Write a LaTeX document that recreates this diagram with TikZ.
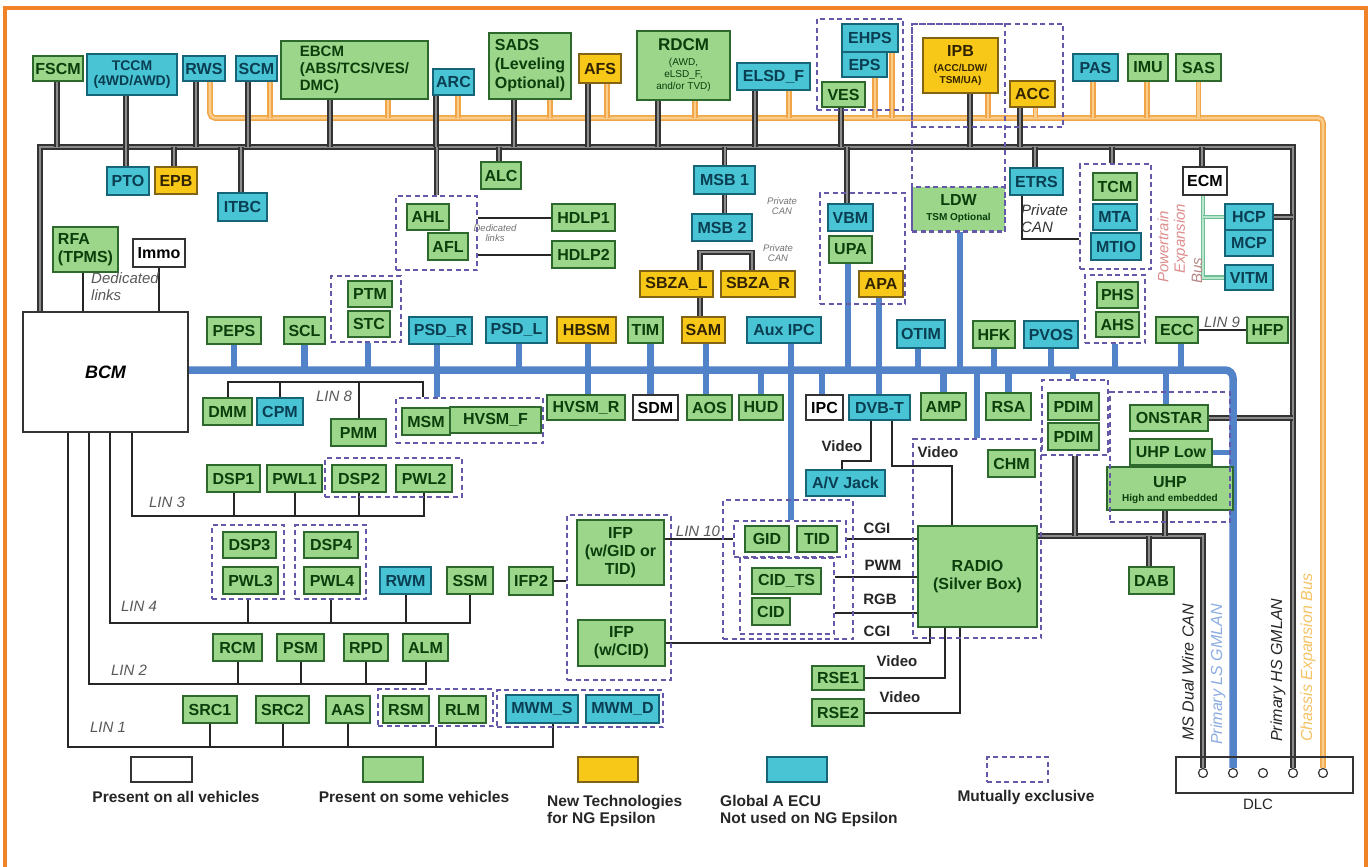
\documentclass[tikz,border=0pt]{standalone}
\usepackage{fontspec}
\setmainfont{Liberation Sans}
\usetikzlibrary{calc}
\definecolor{gF}{RGB}{155,214,138}
\definecolor{gD}{RGB}{45,105,45}
\definecolor{gT}{RGB}{12,62,12}
\definecolor{cF}{RGB}{72,196,212}
\definecolor{cD}{RGB}{22,100,120}
\definecolor{cT}{RGB}{10,62,82}
\definecolor{yF}{RGB}{247,200,24}
\definecolor{yD}{RGB}{130,100,20}
\definecolor{yT}{RGB}{50,35,0}
\definecolor{dashC}{RGB}{100,88,168}
\definecolor{frameC}{RGB}{240,130,40}
\definecolor{oD}{RGB}{240,165,70}
\definecolor{oL}{RGB}{250,205,140}
\definecolor{lsB}{RGB}{82,130,200}
\definecolor{gnD}{RGB}{110,190,150}
\definecolor{gnL}{RGB}{185,230,205}
\definecolor{ptCol}{RGB}{222,140,140}
\definecolor{lsT}{RGB}{140,172,225}
\definecolor{ceT}{RGB}{245,195,100}
\pgfdeclarelayer{bg}
\pgfsetlayers{bg,main}
\newcommand{\mybox}[7]{%
  \pgfmathsetmacro\myBW{#5-#3}\pgfmathsetmacro\myBH{#6-#4}%
  \node[#1, minimum width=\myBW pt, minimum height=\myBH pt] (#2) at ({(#3+#5)/2},{(#4+#6)/2}) {#7};}
\newcommand{\upstub}[4]{\draw[#1] ([xshift=#3]#2.south) -- ([xshift=#3]#2.south |- #4);}
\newcommand{\dnstub}[4]{\draw[#1] ([xshift=#3]#2.north |- #4) -- ([xshift=#3]#2.north);}
\tikzset{
  bx/.style={draw, line width=1.3pt, inner sep=1pt, font=\fontsize{16}{18}\selectfont\bfseries},
  gbox/.style={bx, fill=gF, draw=gD, text=gT},
  cbox/.style={bx, fill=cF, draw=cD, text=cT},
  ybox/.style={bx, fill=yF, draw=yD, text=yT},
  wbox/.style={bx, fill=white, draw=black!80, text=black},
  mxbox/.style={draw=dashC, line width=1.5pt, dash pattern=on 5pt off 3.5pt, inner sep=0pt},
  hsl/.style={draw=black!80, double=black!45, line width=1.6pt, double distance=2pt},
  cel/.style={draw=oD, double=oL, line width=1.5pt, double distance=2.6pt},
  lsl/.style={draw=lsB, line width=6.5pt},
  tl/.style={draw=black!85, line width=2pt},
  gnl/.style={draw=gnD, double=gnL, line width=1.2pt, double distance=2pt},
  gtt/.style={text=gT, inner sep=0pt, font=\fontsize{16}{18}\selectfont\bfseries},
  ytt/.style={text=yT, inner sep=0pt, font=\fontsize{16}{18}\selectfont\bfseries},
  itl/.style={inner sep=0pt, text=black!65, font=\fontsize{15}{17}\selectfont\itshape},
  smt/.style={inner sep=0pt, text=black!55, align=center, font=\fontsize{9.5}{10.5}\selectfont\itshape},
  blt/.style={inner sep=0pt, text=black!85, font=\fontsize{15}{17}\selectfont\bfseries},
  lgt/.style={inner sep=0pt, text=black!85, font=\fontsize{15.5}{17}\selectfont\bfseries},
  vlab/.style={rotate=90, anchor=west, inner sep=0pt, text=black!85, font=\fontsize{16}{18}\selectfont\itshape},
  dlcpin/.style={circle, draw=black!80, line width=1.2pt, fill=white, minimum size=9pt, inner sep=0pt},
}
\begin{document}
\begin{tikzpicture}[x=1pt,y=-1pt]
\useasboundingbox (0,0) rectangle (1371,867);
% ---------- bus coordinates
\coordinate (hsY) at (0,147); \coordinate (hsL) at (40,147); \coordinate (hsR) at (1293,147);
\coordinate (ceY) at (0,118); \coordinate (ceR) at (1323,118);
\coordinate (lsY) at (0,370); \coordinate (lsR) at (1233,370);
\coordinate (msC) at (1203,536);
\coordinate (l8) at (0,382); \coordinate (l3) at (0,516); \coordinate (l4) at (0,623);
\coordinate (l2) at (0,684); \coordinate (l1) at (0,747);
% ---------- top row
\mybox{gbox}{fscm}{33}{56}{83}{81}{FSCM}
\mybox{cbox, align=center, font=\fontsize{14}{15}\selectfont\bfseries}{tccm}{87}{54}{177}{95}{TCCM\\(4WD/AWD)}
\mybox{cbox}{rws}{183}{56}{225}{81}{RWS}
\mybox{cbox}{scm}{236}{56}{277}{81}{SCM}
\mybox{gbox, align=left, font=\fontsize{15}{17}\selectfont\bfseries}{ebcm}{281}{41}{428}{99}{EBCM\\(ABS/TCS/VES/\\DMC)}
\mybox{cbox}{arc}{433}{69}{474}{95}{ARC}
\mybox{gbox, align=left, font=\fontsize{16}{19}\selectfont\bfseries}{sads}{489}{33}{571}{99}{SADS\\(Leveling\\Optional)}
\mybox{ybox}{afs}{579}{54}{621}{83}{AFS}
\mybox{gbox}{rdcm}{637}{31}{730}{100}{}
\mybox{cbox}{elsd}{737}{63}{810}{90}{ELSD\_F}
\mybox{cbox}{ehps}{842}{24}{898}{52}{EHPS}
\mybox{cbox}{eps}{842}{52}{887}{77}{EPS}
\mybox{gbox}{ves}{822}{82}{865}{107}{VES}
\mybox{ybox}{ipb}{923}{38}{998}{93}{}
\mybox{ybox}{acc}{1010}{81}{1055}{107}{ACC}
\mybox{cbox}{pas}{1073}{54}{1118}{81}{PAS}
\mybox{gbox}{imu}{1128}{54}{1168}{81}{IMU}
\mybox{gbox}{sas}{1176}{54}{1221}{81}{SAS}
\node[gtt, font=\fontsize{17}{19}\selectfont\bfseries] (rdcmT) at (683.5,45) {RDCM};
\node[gtt, font=\fontsize{10}{12}\selectfont, align=center] (rdcmS) at (683.5,75) {(AWD,\\eLSD\_F,\\and/or TVD)};
\node[ytt] (ipbT) at (960.5,51) {IPB};
\node[ytt, font=\fontsize{10}{12.5}\selectfont\bfseries, align=center] (ipbS) at (960.5,75) {(ACC/LDW/\\TSM/UA)};
% ---------- below HS bus
\mybox{cbox}{pto}{107}{167}{149}{195}{PTO}
\mybox{ybox}{epb}{155}{167}{197}{194}{EPB}
\mybox{cbox}{itbc}{218}{193}{267}{221}{ITBC}
\mybox{gbox}{alc}{481}{162}{521}{189}{ALC}
\mybox{gbox}{ahl}{407}{204}{449}{230}{AHL}
\mybox{gbox}{afl}{428}{233}{468}{260}{AFL}
\mybox{gbox}{hdlp1}{552}{204}{615}{231}{HDLP1}
\mybox{gbox}{hdlp2}{552}{241}{615}{268}{HDLP2}
\mybox{cbox}{msb1}{694}{166}{755}{194}{MSB 1}
\mybox{cbox}{msb2}{692}{214}{752}{241}{MSB 2}
\mybox{ybox}{sbzal}{640}{271}{713}{297}{SBZA\_L}
\mybox{ybox}{sbzar}{721}{271}{795}{297}{SBZA\_R}
\mybox{cbox}{vbm}{828}{204}{873}{231}{VBM}
\mybox{gbox}{upa}{829}{236}{872}{263}{UPA}
\mybox{ybox}{apa}{859}{271}{903}{297}{APA}
\mybox{gbox, draw=dashC, dash pattern=on 5pt off 3.5pt}{ldw}{912}{187}{1005}{231}{}
\node[gtt] (ldwT) at (958.5,200) {LDW};
\node[gtt, font=\fontsize{10}{12}\selectfont\bfseries] (ldwS) at (958.5,218) {TSM Optional};
\mybox{cbox}{etrs}{1010}{168}{1063}{195}{ETRS}
\mybox{gbox}{tcm}{1093}{173}{1137}{200}{TCM}
\mybox{cbox}{mta}{1093}{204}{1137}{230}{MTA}
\mybox{cbox}{mtio}{1091}{233}{1141}{260}{MTIO}
\mybox{wbox}{ecm}{1183}{167}{1227}{195}{ECM}
\mybox{cbox}{hcp}{1225}{204}{1273}{230}{HCP}
\mybox{cbox}{mcp}{1225}{230}{1273}{256}{MCP}
\mybox{cbox}{vitm}{1225}{265}{1273}{290}{VITM}
\mybox{gbox, align=left}{rfa}{53}{227}{118}{272}{RFA\\(TPMS)}
\mybox{wbox}{immo}{133}{239}{185}{267}{Immo}
\mybox{wbox}{bcm}{23}{312}{188}{432}{\fontsize{18}{20}\selectfont\bfseries\itshape BCM}
% ---------- above LS bus
\mybox{gbox}{peps}{207}{317}{261}{344}{PEPS}
\mybox{gbox}{scl}{284}{317}{325}{344}{SCL}
\mybox{gbox}{ptm}{348}{281}{392}{307}{PTM}
\mybox{gbox}{stc}{348}{311}{390}{337}{STC}
\mybox{cbox}{psdr}{409}{317}{472}{344}{PSD\_R}
\mybox{cbox}{psdl}{486}{317}{547}{343}{PSD\_L}
\mybox{ybox}{hbsm}{557}{317}{616}{343}{HBSM}
\mybox{gbox}{tim}{628}{317}{663}{343}{TIM}
\mybox{ybox}{sam}{682}{317}{725}{343}{SAM}
\mybox{cbox}{auxipc}{747}{317}{821}{343}{Aux IPC}
\mybox{cbox}{otim}{897}{320}{945}{348}{OTIM}
\mybox{gbox}{hfk}{973}{321}{1015}{348}{HFK}
\mybox{cbox}{pvos}{1024}{321}{1078}{348}{PVOS}
\mybox{gbox}{phs}{1097}{282}{1138}{308}{PHS}
\mybox{gbox}{ahs}{1096}{312}{1139}{337}{AHS}
\mybox{gbox}{ecc}{1156}{317}{1198}{343}{ECC}
\mybox{gbox}{hfp}{1247}{317}{1288}{343}{HFP}
% ---------- below LS bus
\mybox{gbox}{dmm}{203}{398}{252}{425}{DMM}
\mybox{cbox}{cpm}{257}{398}{303}{425}{CPM}
\mybox{gbox}{pmm}{331}{419}{386}{446}{PMM}
\mybox{gbox}{msm}{402}{408}{450}{435}{MSM}
\mybox{gbox}{hvsmf}{450}{407}{541}{433}{HVSM\_F}
\mybox{gbox}{hvsmr}{547}{395}{625}{420}{HVSM\_R}
\mybox{wbox}{sdm}{633}{395}{678}{420}{SDM}
\mybox{gbox}{aos}{687}{395}{732}{420}{AOS}
\mybox{gbox}{hud}{739}{395}{783}{420}{HUD}
\mybox{wbox}{ipc}{806}{395}{843}{420}{IPC}
\mybox{cbox}{dvbt}{849}{395}{910}{420}{DVB-T}
\mybox{gbox}{amp}{921}{393}{966}{420}{AMP}
\mybox{gbox}{rsa}{986}{393}{1031}{420}{RSA}
\mybox{gbox}{pdim1}{1048}{393}{1099}{420}{PDIM}
\mybox{gbox}{pdim2}{1048}{423}{1099}{450}{PDIM}
\mybox{gbox}{onstar}{1130}{405}{1208}{431}{ONSTAR}
\mybox{gbox}{uhplow}{1130}{439}{1212}{465}{UHP Low}
\mybox{gbox}{uhp}{1107}{467}{1233}{510}{}
\node[gtt] (uhpT) at (1170,482) {UHP};
\node[gtt, font=\fontsize{10}{12}\selectfont\bfseries] (uhpS) at (1170,499) {High and embedded};
\mybox{gbox}{chm}{988}{450}{1035}{477}{CHM}
\mybox{cbox}{avjack}{806}{470}{885}{496}{A/V Jack}
\mybox{gbox, align=center}{radio}{918}{526}{1037}{627}{RADIO\\(Silver Box)}
\mybox{gbox}{gid}{745}{526}{789}{552}{GID}
\mybox{gbox}{tid}{797}{526}{837}{552}{TID}
\mybox{gbox}{cidts}{752}{568}{821}{594}{CID\_TS}
\mybox{gbox}{cid}{752}{598}{790}{625}{CID}
\mybox{gbox, align=center}{ifp1}{577}{520}{664}{585}{IFP\\(w/GID or\\TID)}
\mybox{gbox, align=center}{ifp2w}{578}{620}{665}{666}{IFP\\(w/CID)}
\mybox{gbox}{ifp2}{509}{567}{553}{595}{IFP2}
\mybox{gbox}{rse1}{812}{666}{864}{690}{RSE1}
\mybox{gbox}{rse2}{812}{699}{864}{726}{RSE2}
\mybox{gbox}{dab}{1129}{567}{1174}{594}{DAB}
% ---------- LIN nodes
\mybox{gbox}{dsp1}{207}{465}{260}{492}{DSP1}
\mybox{gbox}{pwl1}{267}{465}{322}{492}{PWL1}
\mybox{gbox}{dsp2}{332}{465}{386}{492}{DSP2}
\mybox{gbox}{pwl2}{396}{465}{452}{492}{PWL2}
\mybox{gbox}{dsp3}{223}{532}{276}{558}{DSP3}
\mybox{gbox}{pwl3}{223}{567}{278}{594}{PWL3}
\mybox{gbox}{dsp4}{304}{532}{358}{558}{DSP4}
\mybox{gbox}{pwl4}{304}{567}{360}{594}{PWL4}
\mybox{cbox}{rwm}{380}{567}{431}{594}{RWM}
\mybox{gbox}{ssm}{447}{567}{493}{594}{SSM}
\mybox{gbox}{rcm}{213}{634}{262}{661}{RCM}
\mybox{gbox}{psm}{277}{634}{324}{661}{PSM}
\mybox{gbox}{rpd}{344}{634}{388}{661}{RPD}
\mybox{gbox}{alm}{403}{634}{448}{661}{ALM}
\mybox{gbox}{src1}{183}{696}{237}{723}{SRC1}
\mybox{gbox}{src2}{256}{696}{309}{723}{SRC2}
\mybox{gbox}{aas}{326}{696}{370}{723}{AAS}
\mybox{gbox}{rsm}{383}{696}{429}{723}{RSM}
\mybox{gbox}{rlm}{439}{696}{486}{723}{RLM}
\mybox{cbox}{mwms}{506}{695}{578}{723}{MWM\_S}
\mybox{cbox}{mwmd}{586}{695}{659}{723}{MWM\_D}
% ---------- mutually exclusive groups
\mybox{mxbox}{mxV}{817}{19}{903}{110}{}
\mybox{mxbox}{mxIPA}{912}{24}{1063}{127}{}
\mybox{mxbox}{mxIPB}{912}{24}{1005}{232}{}
\mybox{mxbox}{mxAH}{396}{196}{477}{270}{}
\mybox{mxbox}{mxVBM}{820}{193}{905}{304}{}
\mybox{mxbox}{mxTCM}{1080}{164}{1151}{269}{}
\mybox{mxbox}{mxPHS}{1085}{275}{1145}{343}{}
\mybox{mxbox}{mxPTM}{331}{276}{401}{342}{}
\mybox{mxbox}{mxMSM}{396}{398}{543}{443}{}
\mybox{mxbox}{mxPDIM}{1042}{380}{1108}{455}{}
\mybox{mxbox}{mxON}{1110}{392}{1230}{522}{}
\mybox{mxbox}{mxRADIO}{913}{439}{1041}{638}{}
\mybox{mxbox}{mxGC}{723}{500}{853}{639}{}
\mybox{mxbox}{mxGT}{734}{521}{846}{557}{}
\mybox{mxbox}{mxCT}{740}{558}{834}{634}{}
\mybox{mxbox}{mxIFP}{567}{515}{671}{680}{}
\mybox{mxbox}{mxDSP2}{325}{458}{462}{497}{}
\mybox{mxbox}{mxDSP3}{212}{525}{284}{599}{}
\mybox{mxbox}{mxDSP4}{295}{525}{366}{599}{}
\mybox{mxbox}{mxRSM}{378}{689}{493}{726}{}
\mybox{mxbox}{mxMWM}{497}{690}{663}{727}{}
% ---------- DLC
\mybox{draw=black!80, line width=1.3pt}{dlc}{1176}{757}{1353}{793}{}
\node[dlcpin] (pin1) at (1203,773) {};
\node[dlcpin] (pin2) at (1233,773) {};
\node[dlcpin] (pin3) at (1263,773) {};
\node[dlcpin] (pin4) at (1293,773) {};
\node[dlcpin] (pin5) at (1323,773) {};
\node[inner sep=0pt, text=black!85, font=\fontsize{15}{17}\selectfont] (dlcT) at (1258,804) {DLC};
% ---------- labels
\node[itl] (lin8) at (334,396) {LIN 8};
\node[itl] (lin3) at (167,502) {LIN 3};
\node[itl] (lin4) at (139,606) {LIN 4};
\node[itl] (lin2) at (129,670) {LIN 2};
\node[itl] (lin1) at (108,727) {LIN 1};
\node[itl] (lin9) at (1222,322) {LIN 9};
\node[itl] (lin10) at (698,531) {LIN 10};
\node[smt] (dedA) at (495,233) {Dedicated\\links};
\node[smt] (pcanA) at (782,206) {Private\\CAN};
\node[smt] (pcanB) at (778,253) {Private\\CAN};
\node[itl, align=left, anchor=north west] (dedB) at (91,272) {Dedicated\\links};
\node[itl, align=left, anchor=north west, text=black!80] (pcanC) at (1021,204) {Private\\CAN};
\node[blt] (vid1) at (842,446) {Video};
\node[blt] (vid2) at (938,452) {Video};
\node[blt] (cgi1) at (877,528) {CGI};
\node[blt] (pwm) at (883,565) {PWM};
\node[blt] (rgb) at (880,599) {RGB};
\node[blt] (cgi2) at (877,631) {CGI};
\node[blt] (vid3) at (897,661) {Video};
\node[blt] (vid4) at (900,697) {Video};
\node[vlab, text=ptCol, font=\fontsize{15}{17}\selectfont\itshape] (ptA) at (1163,283) {Powertrain};
\node[vlab, text=ptCol, font=\fontsize{15}{17}\selectfont\itshape] (ptB) at (1181,274) {Expansion};
\node[vlab, text=ptCol!60!gray, font=\fontsize{15}{17}\selectfont\itshape] (ptBus) at (1197,284) {Bus};
\node[vlab] (msLab) at (1188,741) {MS Dual Wire CAN};
\node[vlab, text=lsT] (lsLab) at (1218,745) {Primary LS GMLAN};
\node[vlab] (hsLab) at (1278,742) {Primary HS GMLAN};
\node[vlab, text=ceT] (ceLab) at (1308,742) {Chassis Expansion Bus};
% ---------- legend
\mybox{wbox}{lgw}{131}{757}{192}{782}{}
\mybox{gbox}{lgg}{363}{757}{423}{782}{}
\mybox{ybox}{lgy}{578}{757}{638}{782}{}
\mybox{cbox}{lgc}{767}{757}{827}{782}{}
\mybox{mxbox}{lgm}{987}{757}{1048}{782}{}
\node[lgt] (lgwT) at (176,797) {Present on all vehicles};
\node[lgt] (lggT) at (414,797) {Present on some vehicles};
\node[lgt, align=left, anchor=north west] (lgyT) at (547,795) {New Technologies\\for NG Epsilon};
\node[lgt, align=left, anchor=north west] (lgcT) at (720,795) {Global A ECU\\Not used on NG Epsilon};
\node[lgt] (lgmT) at (1026,797) {Mutually exclusive};
% ================= connectors (background layer)
\begin{pgfonlayer}{bg}
\fill[white] (0,0) rectangle (1371,867);
% chassis expansion bus (orange)
\draw[cel, rounded corners=5pt] ([xshift=6]rws.south) -- ([xshift=6]rws.south |- ceY) -- (ceR) -- (pin5.north);
\upstub{cel}{scm}{13.5}{ceY}
\upstub{cel}{ebcm}{33.5}{ceY}
\upstub{cel}{arc}{4.5}{ceY}
\upstub{cel}{sads}{20}{ceY}
\upstub{cel}{afs}{7}{ceY}
\upstub{cel}{rdcm}{11.5}{ceY}
\upstub{cel}{elsd}{15.5}{ceY}
\upstub{cel}{eps}{10.5}{ceY}
\upstub{cel}{ehps}{22}{ceY}
\upstub{cel}{ipb}{27.5}{ceY}
\upstub{cel}{acc}{3}{ceY}
\upstub{cel}{pas}{-2.5}{ceY}
\upstub{cel}{imu}{-1}{ceY}
\upstub{cel}{sas}{0}{ceY}
% primary HS GMLAN (gray double)
\draw[hsl] (bcm.north -| hsL) -- (hsL) -- (hsR) -- (pin4.north);
\upstub{hsl}{fscm}{-1}{hsY}
\upstub{hsl}{tccm}{-6}{hsY}
\upstub{hsl}{rws}{-8}{hsY}
\upstub{hsl}{scm}{-8.5}{hsY}
\upstub{hsl}{ebcm}{-24.5}{hsY}
\upstub{hsl}{arc}{-17.5}{hsY}
\upstub{hsl}{sads}{-16}{hsY}
\upstub{hsl}{afs}{-12}{hsY}
\upstub{hsl}{rdcm}{-25.5}{hsY}
\upstub{hsl}{elsd}{-18.5}{hsY}
\upstub{hsl}{ves}{-2.5}{hsY}
\upstub{hsl}{ipb}{9.5}{hsY}
\upstub{hsl}{acc}{-12.5}{hsY}
\dnstub{hsl}{pto}{-2}{hsY}
\dnstub{hsl}{epb}{-2}{hsY}
\dnstub{hsl}{itbc}{-1.5}{hsY}
\dnstub{hsl}{mxAH}{0}{hsY}
\dnstub{hsl}{alc}{-2}{hsY}
\dnstub{hsl}{msb1}{0}{hsY}
\dnstub{hsl}{vbm}{-3.5}{hsY}
\dnstub{hsl}{etrs}{-1.5}{hsY}
\dnstub{hsl}{mxTCM}{-3.5}{hsY}
\dnstub{hsl}{ecm}{-3}{hsY}
\draw[hsl] (msb1.south) -- (msb1.south |- msb2.north);
\draw[hsl] ([xshift=23.5]sbzal.north) -- ++(0,-18) -| ([xshift=-6]sbzar.north);
\draw[hsl] ([xshift=23.5]sbzal.south) -- ([xshift=23.5]sbzal.south |- sam.north);
\draw[hsl] (hcp.east) -- (hcp.east -| hsR);
\draw[hsl] (onstar.east) -- (onstar.east -| hsR);
% MS dual wire CAN
\draw[hsl] ([yshift=40.5]radio.east) -- (msC) -- (pin1.north);
\draw[hsl] (mxPDIM.south) -- (mxPDIM.south |- msC);
\draw[hsl] ([xshift=-5]uhp.south) -- ([xshift=-5]uhp.south |- msC);
\draw[hsl] ([xshift=-2.5]dab.north |- msC) -- ([xshift=-2.5]dab.north);
% powertrain expansion bus
\draw[gnl] ([xshift=-2]ecm.south) |- (vitm.west);
\draw[gnl] ([xshift=-2]ecm.south |- hcp.west) -- (hcp.west);
% primary LS GMLAN (blue)
\draw[lsl, line width=7.5pt, rounded corners=8pt] (bcm.east |- lsR) -- (lsR) -- (pin2.north);
\upstub{lsl}{peps}{0}{lsY}
\upstub{lsl}{scl}{0}{lsY}
\upstub{lsl}{mxPTM}{2}{lsY}
\upstub{lsl}{psdl}{2.5}{lsY}
\upstub{lsl}{upa}{-2.5}{lsY}
\upstub{lsl}{otim}{-3}{lsY}
\upstub{lsl}{ldw}{1.5}{lsY}
\upstub{lsl}{hfk}{0}{lsY}
\upstub{lsl}{pvos}{0}{lsY}
\upstub{lsl}{mxPHS}{0}{lsY}
\upstub{lsl}{ecc}{4}{lsY}
\draw[lsl] ([xshift=-3.5]psdr.south) -- ([xshift=-3.5]psdr.south |- mxMSM.north);
\draw[lsl] ([xshift=1.5]hbsm.south) -- ([xshift=1.5]hbsm.south |- hvsmr.north);
\draw[lsl] ([xshift=5]tim.south) -- ([xshift=5]tim.south |- sdm.north);
\draw[lsl] ([xshift=2.5]sam.south) -- ([xshift=2.5]sam.south |- aos.north);
\draw[lsl] ([xshift=7]auxipc.south) -- ([xshift=7]auxipc.south |- mxGT.north);
\draw[lsl] ([xshift=-2]apa.south) -- ([xshift=-2]apa.south |- dvbt.north);
\dnstub{lsl}{hud}{0}{lsY}
\dnstub{lsl}{ipc}{-2.5}{lsY}
\dnstub{lsl}{amp}{0}{lsY}
\dnstub{lsl}{rsa}{0}{lsY}
\dnstub{lsl}{mxRADIO}{0}{lsY}
\dnstub{lsl}{mxPDIM}{-2}{lsY}
\dnstub{lsl}{onstar}{-3}{lsY}
\draw[lsl, line width=5pt] (uhplow.east) -- (uhplow.east -| lsR);
% thin links
\draw[tl] ([xshift=-8.5]dvbt.south) -- ++(0,40) -| ([xshift=-3.5]avjack.north);
\draw[tl] ([xshift=12.5]dvbt.south) -- ++(0,45) -| ([xshift=-25.5]radio.north);
\draw[tl] (ifp1.east |- mxGT.west) -- (mxGT.west);
\draw[tl] (mxGT.east) -- (mxGT.east -| radio.west);
\draw[tl] ([yshift=19]mxCT.east) -- ([yshift=19]mxCT.east -| radio.west);
\draw[tl] ([yshift=-17]mxCT.east) -- ([yshift=-17]mxCT.east -| radio.west);
\draw[tl] (ifp2w.east) -| ([xshift=-47.5]radio.south);
\draw[tl] (rse1.east) -| ([xshift=-32.5]radio.south);
\draw[tl] (rse2.east) -| ([xshift=-17.5]radio.south);
\draw[tl] (ifp2.east) -- (ifp2.east -| mxIFP.west);
\draw[tl] (ecc.east) -- (hfp.west);
\draw[tl] ([xshift=-2.5]rfa.south) -- ([xshift=-2.5]rfa.south |- bcm.north);
\draw[tl] (immo.south) -- (immo.south |- bcm.north);
\draw[tl] (hdlp1.west) -- (hdlp1.west -| mxAH.east);
\draw[tl] (hdlp2.west) -- (hdlp2.west -| mxAH.east);
\draw[tl] ([xshift=-14.5]etrs.south) |- ([yshift=-22.5]mxTCM.west);
% LIN 8
\draw[tl] (dmm.north) |- ([xshift=-46.5]mxMSM.north |- l8) -- ([xshift=-46.5]mxMSM.north);
\draw[tl] (cpm.north) -- (cpm.north |- l8);
\draw[tl] (pmm.north) -- (pmm.north |- l8);
% LIN 3
\draw[tl] ([xshift=26.5]bcm.south) |- (pwl2.south |- l3) -- (pwl2.south);
\draw[tl] (dsp1.south) -- (dsp1.south |- l3);
\draw[tl] (pwl1.south) -- (pwl1.south |- l3);
\draw[tl] (dsp2.south) -- (dsp2.south |- l3);
% LIN 4
\draw[tl] ([xshift=4.5]bcm.south) |- (ssm.south |- l4) -- (ssm.south);
\draw[tl] (mxDSP3.south) -- (mxDSP3.south |- l4);
\draw[tl] (mxDSP4.south) -- (mxDSP4.south |- l4);
\draw[tl] (rwm.south) -- (rwm.south |- l4);
% LIN 2
\draw[tl] ([xshift=-16.5]bcm.south) |- (alm.south |- l2) -- (alm.south);
\draw[tl] (rcm.south) -- (rcm.south |- l2);
\draw[tl] (psm.south) -- (psm.south |- l2);
\draw[tl] (rpd.south) -- (rpd.south |- l2);
% LIN 1
\draw[tl] ([xshift=-37.5]bcm.south) |- ([xshift=11]mwms.south |- l1) -- ([xshift=11]mwms.south);
\draw[tl] (src1.south) -- (src1.south |- l1);
\draw[tl] (src2.south) -- (src2.south |- l1);
\draw[tl] (aas.south) -- (aas.south |- l1);
\draw[tl] (mxRSM.south) -- (mxRSM.south |- l1);
% frame
\draw[frameC, line width=4pt] (5,872) -- (5,8) -- (1366,8) -- (1366,872);
\end{pgfonlayer}
\end{tikzpicture}
\end{document}
